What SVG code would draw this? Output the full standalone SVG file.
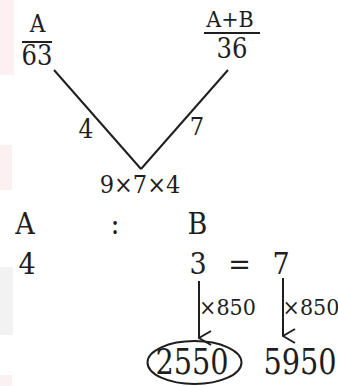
<svg xmlns="http://www.w3.org/2000/svg" width="338" height="386" viewBox="0 0 338 386">
<style>
text{font-family:"DejaVu Serif Condensed","DejaVu Serif","Liberation Serif",serif;font-stretch:condensed;fill:#1e1e1e;text-anchor:middle}
.s23{font-size:23px}.s24{font-size:24px}.s25{font-size:25px}.s26{font-size:26px}.s27{font-size:27px}.s30{font-size:30px}.s32{font-size:32px}
.ln{stroke:#1e1e1e;stroke-width:2;fill:none}
</style>
<defs>
<marker id="ah" viewBox="0 0 16 14" refX="8" refY="13" markerWidth="16" markerHeight="14" markerUnits="userSpaceOnUse" orient="auto-start-reverse">
<path d="M1,1 L8,13 L15,1" fill="none" stroke="#1e1e1e" stroke-width="2"/>
</marker>
</defs>
<rect width="338" height="386" fill="#fff"/>
<g id="watermark" opacity="0.5">
<rect x="0" y="0" width="14" height="75" fill="#fbe3e8"/>
<rect x="0" y="145" width="12" height="45" fill="#fbe3e8"/>
<rect x="0" y="267" width="13" height="68" fill="#e6e6e6"/>
<rect x="0" y="375" width="12" height="11" fill="#fbe3e8"/>
</g>
<g id="connectors">
<line class="ln" x1="54" y1="70" x2="141" y2="169"/>
<line class="ln" x1="228" y1="70" x2="141" y2="169"/>
<line class="ln" x1="199" y1="281" x2="199" y2="338" marker-end="url(#ah)"/>
<line class="ln" x1="283" y1="278" x2="283" y2="336" marker-end="url(#ah)"/>
</g>
<g id="fracA">
<text class="s24" x="37.5" y="32">A</text>
<line class="ln" x1="22" y1="42" x2="52" y2="42"/>
<text class="s27" x="37" y="65">63</text>
</g>
<g id="fracAB">
<text class="s23" x="230" y="27">A+B</text>
<line class="ln" x1="204" y1="33" x2="260" y2="33"/>
<text class="s27" x="232" y="58">36</text>
</g>
<g id="label4"><text class="s26" x="86" y="138">4</text></g>
<g id="label7"><text class="s25" x="197" y="135">7</text></g>
<g id="product"><text class="s25" x="140" y="193">9×7×4</text></g>
<g id="ratioHead">
<text class="s30" x="25" y="234">A</text>
<text class="s30" x="115" y="234">:</text>
<text class="s30" x="197.5" y="234">B</text>
</g>
<g id="ratioVals">
<text class="s30" x="27" y="274">4</text>
<text class="s30" x="198" y="274">3</text>
<text class="s30" x="239.5" y="274">=</text>
<text class="s30" x="281" y="274">7</text>
</g>
<g id="mult1"><text class="s23" x="227.5" y="315">×850</text></g>
<g id="mult2"><text class="s23" x="311" y="315">×850</text></g>
<g id="res1">
<ellipse class="ln" cx="194.5" cy="362.5" rx="47" ry="21.5"/>
<text class="s32" transform="translate(192,374) scale(1,1.08)">2550</text>
</g>
<g id="res2"><text class="s32" transform="translate(300,374) scale(1,1.08)">5950</text></g>
</svg>
